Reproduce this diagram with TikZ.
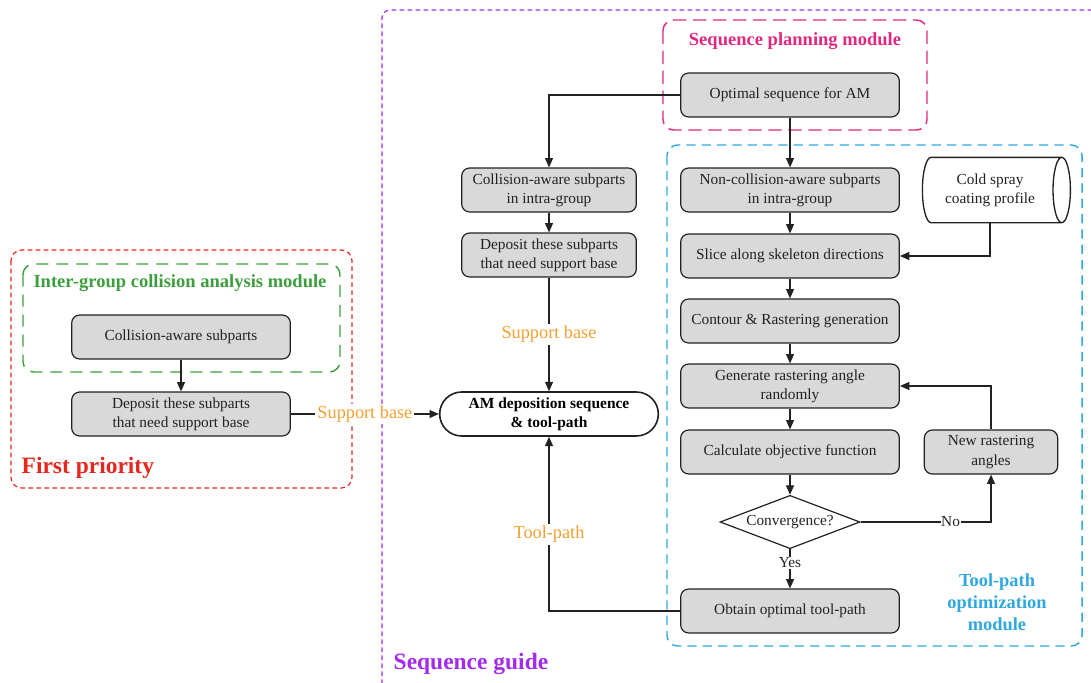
\documentclass[tikz,border=0pt]{standalone}
\usepackage{fontspec}
\setmainfont{Liberation Serif}
\usetikzlibrary{shapes.geometric,shapes.misc,arrows.meta}

\definecolor{boxgray}{HTML}{D9D9D9}
\definecolor{guidepurple}{HTML}{A32BF0}
\definecolor{planpink}{HTML}{E0287F}
\definecolor{toolblue}{HTML}{2FA8E0}
\definecolor{intergreen}{HTML}{3C9E3C}
\definecolor{prioredred}{HTML}{E8261E}
\definecolor{tagorange}{HTML}{F5A030}
\definecolor{inkgray}{HTML}{222222}

\begin{document}
\begin{tikzpicture}[x=0.75pt,y=-0.75pt,
  proc/.style={draw=inkgray, fill=boxgray, rounded corners=6pt, line width=0.9pt,
    minimum width=164pt, minimum height=33pt, align=center, inner sep=2pt,
    font=\fontsize{11.5}{14.5}\selectfont, text=inkgray},
  midbox/.style={proc, minimum width=131pt},
  sidebox/.style={proc, minimum width=100pt},
  flow/.style={line width=0.8pt, draw=inkgray, -{Triangle[length=7pt,width=6pt]}},
  tag/.style={text=tagorange, fill=white, inner sep=1.5pt, font=\fontsize{13.7}{16}\selectfont},
  title/.style={font=\bfseries\fontsize{13.9}{16}\selectfont, align=center},
]
\useasboundingbox (0,0) rectangle (1091,682);

% ---- frames ----
\draw[guidepurple, line width=0.9pt, dash pattern=on 3.5pt off 2.5pt, rounded corners=6pt]
  (382,700) -- (382,10) -- (1110,10);
\draw[planpink, line width=1.1pt, dash pattern=on 10pt off 5pt, rounded corners=8pt]
  (663,20) rectangle (927,130);
\draw[toolblue, line width=1.1pt, dash pattern=on 7pt off 4.5pt, rounded corners=8pt]
  (667,145) rectangle (1082,646);
\draw[prioredred, line width=0.9pt, dash pattern=on 3.5pt off 2.5pt, rounded corners=8pt]
  (11,250) rectangle (352,488);
\draw[intergreen, line width=1.1pt, dash pattern=on 9pt off 6pt, rounded corners=8pt]
  (23,264) rectangle (340,372);

% ---- frame titles ----
\node[title, text=planpink] (tplan) at (795,41) {Sequence planning module};
\node[title, text=intergreen] (tinter) at (180,283) {Inter-group collision analysis module};
\node[title, text=prioredred, anchor=west, font=\bfseries\fontsize{17.6}{20}\selectfont] (tprio) at (17,468) {First priority};
\node[title, text=guidepurple, anchor=west, font=\bfseries\fontsize{17.6}{20}\selectfont] (tguide) at (389,664) {Sequence guide};
\node[title, text=toolblue, font=\bfseries\fontsize{13.8}{16.5}\selectfont] (ttool) at (997,602) {Tool-path\\optimization\\module};

% ---- sequence planning ----
\node[proc] (opt) at (790,95) {Optimal sequence for AM};

% ---- tool-path optimisation ----
\node[proc] (noncol) at (790,190) {Non-collision-aware subparts\\in intra-group};
\node[cylinder, draw=inkgray, line width=1pt, fill=white, aspect=0.45,
  minimum width=49pt, minimum height=111pt, align=center, inner sep=2pt,
  font=\fontsize{11.5}{14.5}\selectfont, text=inkgray] (cold) at (990,190) {Cold spray\\coating profile};
\node[proc] (slice) at (790,256) {Slice along skeleton directions};
\node[proc] (contour) at (790,321) {Contour \& Rastering generation};
\node[proc] (gen) at (790,386) {Generate rastering angle\\randomly};
\node[proc] (calc) at (790,452) {Calculate objective function};
\node[diamond, draw=inkgray, line width=0.9pt, fill=white, inner sep=0pt,
  shape aspect=2.64, minimum width=105pt, minimum height=40pt,
  font=\fontsize{11.5}{14.5}\selectfont, text=inkgray] (conv) at (790,522) {Convergence?};
\node[sidebox] (newang) at (991,452) {New rastering\\angles};
\node[proc] (obtain) at (790,611) {Obtain optimal tool-path};

% ---- intra-group collision branch ----
\node[midbox] (colintra) at (549,190) {Collision-aware subparts\\in intra-group};
\node[midbox] (depmid) at (549,255) {Deposit these subparts\\that need support base};
\node[draw=inkgray, line width=1.2pt, fill=white, rounded corners=16.5pt,
  minimum width=164pt, minimum height=33pt, align=center, inner sep=2pt,
  font=\bfseries\fontsize{11.6}{14.5}\selectfont, text=black] (am) at (549,414) {AM deposition sequence\\\& tool-path};

% ---- inter-group module ----
\node[proc] (colaware) at (181,337) {Collision-aware subparts};
\node[proc] (depleft) at (181,414) {Deposit these subparts\\that need support base};

% ---- connectors ----
\draw[flow] (opt.south) -- (noncol.north);
\draw[flow] (opt.west) -| (colintra.north);
\draw[flow] (noncol) -- (slice);
\draw[flow] (cold.south) |- (slice.east);
\draw[flow] (slice) -- (contour);
\draw[flow] (contour) -- (gen);
\draw[flow] (gen) -- (calc);
\draw[flow] (calc) -- (conv);
\draw[flow] (conv.east) -- node[pos=0.69, fill=white, inner sep=0.5pt, text=inkgray,
  font=\fontsize{11.5}{14.5}\selectfont] {No} (conv.east -| newang.south) -- (newang.south);
\draw[flow] (newang.north) |- (gen.east);
\draw[flow] (conv.south) -- node[pos=0.35, fill=white, inner sep=1pt, text=inkgray,
  font=\fontsize{11.5}{14.5}\selectfont] {Yes} (obtain.north);
\draw[flow] (obtain.west) -| node[pos=0.72, tag] {Tool-path} (am.south);

\draw[flow] (colintra) -- (depmid);
\draw[flow] (depmid.south) -- node[pos=0.5, tag] {Support base} (am.north);

\draw[flow] (colaware) -- (depleft);
\draw[flow] (depleft.east) -- node[pos=0.5, tag] {Support base} (am.west);
\end{tikzpicture}
\end{document}
